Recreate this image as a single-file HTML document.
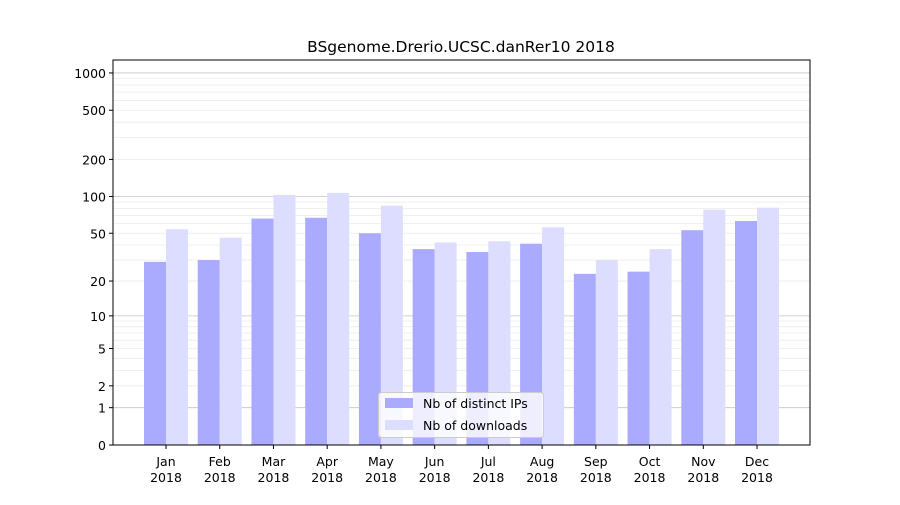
<!DOCTYPE html>
<html><head><meta charset="utf-8"><style>
body{margin:0;background:#fff;}
svg text{font-family:"DejaVu Sans","Liberation Sans",sans-serif;fill:#000;}
</style></head><body>
<svg id="chart" width="900" height="500" xmlns="http://www.w3.org/2000/svg">
<rect width="900" height="500" fill="#fff"/>
<text x="461" y="52" font-size="15.5" text-anchor="middle">BSgenome.Drerio.UCSC.danRer10 2018</text>
<g id="grid"></g><g id="bars"></g><g id="axes"></g>
</svg>
<script>
const months=["Jan","Feb","Mar","Apr","May","Jun","Jul","Aug","Sep","Oct","Nov","Dec"];
const ips=[29,30,66,67,50,37,35,41,23,24,53,63];
const downloads=[54,46,103,107,84,42,43,56,30,37,78,81];
const yTicks=[0,1,2,5,10,20,50,100,200,500,1000];
const NS="http://www.w3.org/2000/svg";
const L=113,R=810,T=60,B=445;
function y(v){return B-124*Math.log10(1+v);}
function x(i){return 166+i*53.73;}
function mk(tag,attrs,parent,txt){const e=document.createElementNS(NS,tag);for(const k in attrs)e.setAttribute(k,attrs[k]);if(txt!==undefined)e.textContent=txt;parent.appendChild(e);return e;}
const grid=document.getElementById('grid'),bars=document.getElementById('bars'),axes=document.getElementById('axes');
for(const d of [1,10,100]){for(let m=2;m<=9;m++){const v=m*d;const g=mk('line',{x1:L,x2:R,y1:y(v),y2:y(v),stroke:'#ebebeb','stroke-width':0.8},grid);

}}
for(const v of [1,10,100,1000]){const g=mk('line',{x1:L,x2:R,y1:y(v),y2:y(v),stroke:'#c4c4c4','stroke-width':0.8},grid);

}
months.forEach((m,i)=>{
 const b1=mk('rect',{x:x(i)-22,y:y(ips[i]),width:22,height:B-y(ips[i]),fill:'#aaaaff'},bars);
 
 
 const b2=mk('rect',{x:x(i),y:y(downloads[i]),width:22,height:B-y(downloads[i]),fill:'#ddddff'},bars);
 
 
 mk('line',{x1:x(i),x2:x(i),y1:B,y2:B+4,stroke:'#000'},axes);
 const t=mk('text',{x:x(i),y:B+21,'font-size':12.5,'text-anchor':'middle'},axes);
 
 
 mk('tspan',{x:x(i)},t,m);mk('tspan',{x:x(i),dy:16},t,'2018');
});
yTicks.forEach(v=>{
 mk('line',{x1:L-4,x2:L,y1:y(v),y2:y(v),stroke:'#000'},axes);
 const t=mk('text',{x:L-7,y:y(v)+5,'font-size':12.5,'text-anchor':'end'},axes,String(v));
 
 
});
const fr=mk('rect',{x:L,y:T,width:R-L,height:B-T,fill:'none',stroke:'#000','stroke-width':1},axes);


const lg=mk('g',{},axes);


mk('rect',{x:378.5,y:392.5,width:165,height:45,rx:3,fill:'#fff','fill-opacity':0.8,stroke:'#ccc'},lg);
mk('rect',{x:385,y:398,width:28,height:10,fill:'#aaaaff'},lg);
mk('rect',{x:385,y:420,width:28,height:10,fill:'#ddddff'},lg);
const l1=mk('text',{x:423,y:408,'font-size':12.5},lg,'Nb of distinct IPs');


const l2=mk('text',{x:423,y:430,'font-size':12.5},lg,'Nb of downloads');


</script>
</body></html>
